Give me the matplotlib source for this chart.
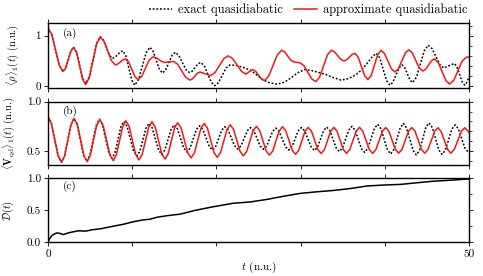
import matplotlib
matplotlib.use("Agg")
import matplotlib.pyplot as plt
from matplotlib.ticker import FixedLocator

plt.rcParams['font.family'] = 'serif'
plt.rcParams['font.serif'] = ['cmr10', 'DejaVu Serif']
plt.rcParams['mathtext.fontset'] = 'cm'
plt.rcParams['axes.unicode_minus'] = False
plt.rcParams['axes.formatter.use_mathtext'] = True

# ---------------- panel (a): <rho>_1(t) ----------------
ta_exact = [0, 0.445, 0.89, 1.335, 1.78, 2.10, 2.415, 2.73, 3.05, 3.405, 3.76, 4.115, 4.47,
            4.90, 5.335, 5.77, 6.2, 6.56, 6.925, 7.29, 7.65, 7.96, 8.275, 8.59, 8.9,
            9.25, 9.6, 9.95, 10.3, 10.75, 11.2, 11.65, 12.1, 12.475, 12.85, 13.225, 13.6,
            13.975, 14.35, 14.725, 15.1, 15.525, 15.95, 16.375, 16.8, 17.14, 17.475, 17.81,
            18.15, 18.56, 18.975, 19.39, 19.8, 20.25, 20.7, 21.15, 21.6, 22.4, 23.2, 24.0,
            24.8, 25.5, 26.3, 27.2, 28.1, 28.9, 29.6, 30.5, 31.3, 32.2, 33.0, 33.9, 34.8,
            35.7, 36.6, 37.3, 37.9, 38.5, 39.0, 39.4, 39.8, 40.2, 40.6, 40.96, 41.325,
            41.69, 42.05, 42.36, 42.675, 42.99, 43.3, 43.76, 44.225, 44.69, 45.15, 45.61,
            46.075, 46.54, 47.0, 47.625, 48.25, 48.56, 48.875, 49.19, 49.5, 49.75, 50.0]
va_exact = [1.15, 1.024, 0.72, 0.416, 0.29, 0.36, 0.53, 0.70, 0.77, 0.665, 0.41, 0.155, 0.05,
            0.186, 0.515, 0.844, 0.98, 0.917, 0.765, 0.613, 0.55, 0.572, 0.625, 0.678, 0.70,
            0.60, 0.36, 0.119, 0.02, 0.13, 0.395, 0.66, 0.77, 0.696, 0.515, 0.334, 0.26,
            0.32, 0.465, 0.61, 0.67, 0.612, 0.47, 0.328, 0.27, 0.299, 0.37, 0.441,
            0.47, 0.403, 0.24, 0.077, 0.01, 0.07, 0.215, 0.36, 0.42, 0.41, 0.37, 0.32,
            0.22, 0.13, 0.07, 0.04, 0.08, 0.17, 0.26, 0.33, 0.31, 0.27, 0.23, 0.17, 0.12,
            0.15, 0.23, 0.33, 0.45, 0.58, 0.65, 0.558, 0.335, 0.112, 0.02, 0.078, 0.22,
            0.362, 0.42, 0.369, 0.245, 0.121, 0.07, 0.178, 0.44, 0.702, 0.81, 0.744,
            0.585, 0.426, 0.36, 0.405, 0.45, 0.387, 0.235, 0.083, 0.02, 0.08, 0.19]

ta_approx = [0, 0.445, 0.89, 1.335, 1.78, 2.10, 2.415, 2.73, 3.05, 3.405, 3.76, 4.115, 4.47,
             4.90, 5.335, 5.77, 6.2, 6.65, 7.1, 7.55, 8.0, 8.3, 8.6, 8.9, 9.2, 9.575, 9.95,
             10.325, 10.7, 11.14, 11.575, 12.01, 12.45, 12.81, 13.175, 13.54, 13.9, 14.4,
             14.9, 15.39, 15.875, 16.36, 16.85, 17.15, 17.45, 17.75, 18.05, 18.675, 19.3,
             19.825, 20.35, 20.875, 21.4, 21.925, 22.45, 22.975, 23.5, 23.9, 24.3, 24.65,
             25.0, 25.35, 25.7, 26.21, 26.725, 27.24, 27.75, 28.11, 28.475, 28.84, 29.2,
             29.55, 29.9, 30.375, 30.85, 31.325, 31.8, 32.26, 32.725, 33.19, 33.65, 34.025,
             34.4, 34.775, 35.15, 35.475, 35.8, 36.125, 36.45, 36.84, 37.225, 37.61, 38.0,
             38.39, 38.775, 39.16, 39.55, 39.96, 40.375, 40.79, 41.2, 41.61, 42.025, 42.44,
             42.85, 43.26, 43.675, 44.09, 44.5, 44.85, 45.2, 45.55, 45.9, 46.35, 46.8,
             47.25, 47.7, 48.2, 48.7, 49.2, 49.7, 50.0]
va_approx = [1.15, 1.024, 0.72, 0.416, 0.29, 0.36, 0.53, 0.70, 0.77, 0.662, 0.40, 0.138, 0.03,
             0.167, 0.50, 0.833, 0.97, 0.89, 0.695, 0.50, 0.42, 0.44, 0.48, 0.52, 0.54, 0.48,
             0.335, 0.19, 0.13, 0.196, 0.355, 0.514, 0.58, 0.564, 0.525, 0.486, 0.47, 0.48,
             0.49, 0.436, 0.305, 0.174, 0.12, 0.143, 0.20, 0.257, 0.28, 0.245, 0.21,
             0.267, 0.405, 0.543, 0.60, 0.547, 0.42, 0.293, 0.24, 0.285, 0.33, 0.298,
             0.22, 0.142, 0.11, 0.198, 0.41, 0.622, 0.71, 0.676, 0.595, 0.514, 0.48,
             0.47, 0.465, 0.41, 0.278, 0.145, 0.09, 0.18, 0.40, 0.62, 0.71, 0.679,
             0.605, 0.531, 0.50, 0.522, 0.575, 0.628, 0.65, 0.574, 0.39, 0.206, 0.13,
             0.215, 0.42, 0.625, 0.71, 0.647, 0.495, 0.343, 0.28, 0.344, 0.50, 0.656,
             0.72, 0.659, 0.51, 0.361, 0.30, 0.335, 0.42, 0.505, 0.54, 0.467, 0.29,
             0.113, 0.04, 0.119, 0.31, 0.501, 0.575, 0.575]

# ---------------- panel (b): <V_qd>_1(t) ----------------
tb_exact = [0, 0.4, 0.8, 1.2, 1.6, 1.97, 2.345, 2.72, 3.09, 3.47, 3.845, 4.22, 4.6,
            4.975, 5.35, 5.725, 6.1, 6.475, 6.85, 7.225, 7.6, 7.95, 8.3, 8.65, 9.0,
            9.39, 9.775, 10.16, 10.55, 10.91, 11.275, 11.64, 12.0, 12.375, 12.75, 13.125,
            13.5, 13.875, 14.25, 14.625, 15.0, 15.375, 15.75, 16.125, 16.5, 16.875, 17.25,
            17.625, 18.0, 18.39, 18.775, 19.16, 19.55, 19.91, 20.275, 20.64, 21.0, 21.39,
            21.775, 22.16, 22.55, 22.925, 23.3, 23.675, 24.05, 24.44, 24.825, 25.21, 25.6,
            25.96, 26.325, 26.69, 27.05, 27.44, 27.825, 28.21, 28.6, 28.975, 29.35, 29.725,
            30.1, 30.49, 30.875, 31.26, 31.65, 32.01, 32.375, 32.74, 33.1, 33.475, 33.85,
            34.225, 34.6, 34.975, 35.35, 35.725, 36.1, 36.475, 36.85, 37.225, 37.6, 37.99,
            38.375, 38.76, 39.15, 39.54, 39.925, 40.31, 40.7, 41.075, 41.45, 41.825, 42.2,
            42.59, 42.975, 43.36, 43.75, 44.125, 44.5, 44.875, 45.25, 45.64, 46.025, 46.41,
            46.8, 47.19, 47.575, 47.96, 48.35, 48.74, 49.125, 49.51, 49.9, 50.0]
vb_exact = [0.848, 0.780, 0.617, 0.453, 0.385, 0.450, 0.608, 0.766, 0.831, 0.767, 0.613, 0.459, 0.395,
            0.457, 0.608, 0.759, 0.821, 0.763, 0.623, 0.483, 0.425, 0.480, 0.613, 0.745, 0.80,
            0.749, 0.625, 0.500, 0.449, 0.497, 0.615, 0.732, 0.78, 0.734, 0.623, 0.511,
            0.465, 0.509, 0.615, 0.721, 0.765, 0.725, 0.628, 0.530, 0.49, 0.529, 0.623,
            0.717, 0.756, 0.720, 0.633, 0.546, 0.51, 0.544, 0.628, 0.712, 0.746, 0.713,
            0.633, 0.553, 0.52, 0.552, 0.629, 0.706, 0.738, 0.706, 0.628, 0.549, 0.517,
            0.548, 0.625, 0.701, 0.732, 0.700, 0.621, 0.542, 0.51, 0.543, 0.624, 0.705,
            0.738, 0.704, 0.622, 0.539, 0.505, 0.540, 0.624, 0.707, 0.742, 0.706, 0.619,
            0.531, 0.495, 0.532, 0.623, 0.713, 0.75, 0.711, 0.618, 0.524, 0.485, 0.527,
            0.628, 0.728, 0.77, 0.726, 0.620, 0.514, 0.47, 0.515, 0.625, 0.735, 0.78,
            0.733, 0.620, 0.507, 0.46, 0.507, 0.623, 0.738, 0.785, 0.738, 0.625, 0.512,
            0.465, 0.509, 0.615, 0.721, 0.765, 0.725, 0.628, 0.530, 0.49, 0.492]

tb_approx = [0, 0.4, 0.8, 1.2, 1.6, 1.975, 2.35, 2.725, 3.1, 3.49, 3.875, 4.26, 4.65,
             5.025, 5.4, 5.775, 6.15, 6.55, 6.95, 7.35, 7.75, 8.125, 8.5, 8.875, 9.25,
             9.64, 10.025, 10.41, 10.8, 11.19, 11.575, 11.96, 12.35, 12.74, 13.125, 13.51,
             13.9, 14.275, 14.65, 15.025, 15.4, 15.8, 16.2, 16.6, 17.0, 17.39, 17.775,
             18.16, 18.55, 18.94, 19.325, 19.71, 20.1, 20.49, 20.875, 21.26, 21.65, 22.04,
             22.425, 22.81, 23.2, 23.59, 23.975, 24.36, 24.75, 25.14, 25.525, 25.91, 26.3,
             26.69, 27.075, 27.46, 27.85, 28.24, 28.625, 29.01, 29.4, 29.775, 30.15, 30.525,
             30.9, 31.29, 31.675, 32.06, 32.45, 32.825, 33.2, 33.575, 33.95, 34.325, 34.7,
             35.075, 35.45, 35.84, 36.225, 36.61, 37.0, 37.39, 37.775, 38.16, 38.55, 38.94,
             39.325, 39.71, 40.1, 40.49, 40.875, 41.26, 41.65, 42.04, 42.425, 42.81, 43.2,
             43.59, 43.975, 44.36, 44.75, 45.14, 45.525, 45.91, 46.3, 46.69, 47.075, 47.46,
             47.85, 48.26, 48.675, 49.09, 49.5, 50.0]
vb_approx = [0.848, 0.780, 0.617, 0.453, 0.385, 0.450, 0.608, 0.766, 0.831, 0.767, 0.612, 0.456, 0.392,
             0.455, 0.607, 0.758, 0.821, 0.760, 0.612, 0.463, 0.402, 0.461, 0.605, 0.748, 0.807,
             0.749, 0.608, 0.467, 0.409, 0.466, 0.603, 0.740, 0.797, 0.742, 0.608, 0.473,
             0.418, 0.472, 0.603, 0.733, 0.787, 0.735, 0.609, 0.482, 0.43, 0.481, 0.605,
             0.729, 0.78, 0.730, 0.608, 0.486, 0.436, 0.484, 0.601, 0.717, 0.765, 0.719,
             0.608, 0.496, 0.45, 0.494, 0.600, 0.706, 0.75, 0.707, 0.604, 0.501, 0.458,
             0.500, 0.602, 0.704, 0.746, 0.705, 0.606, 0.507, 0.466, 0.506, 0.603, 0.700,
             0.74, 0.701, 0.607, 0.513, 0.474, 0.513, 0.607, 0.701, 0.74, 0.701, 0.608,
             0.515, 0.476, 0.515, 0.608, 0.701, 0.74, 0.701, 0.608, 0.515, 0.476, 0.514,
             0.607, 0.700, 0.738, 0.700, 0.608, 0.516, 0.478, 0.516, 0.608, 0.700, 0.738,
             0.700, 0.608, 0.516, 0.478, 0.516, 0.607, 0.698, 0.736, 0.698, 0.607, 0.516,
             0.478, 0.516, 0.607, 0.698, 0.736, 0.69]

# ---------------- panel (c): D(t) ----------------
tc = [0, 0.2, 0.5, 1.0, 1.4, 1.8, 2.5, 3.6, 4.5, 5.2, 6.2, 7.3, 8.9, 10.1, 11.3, 12.1,
      12.9, 14.1, 15.7, 16.3, 17.5, 19.6, 22.0, 24.0, 26.0, 28.0, 30.0, 32.0, 33.9, 35.9,
      37.9, 39.9, 41.9, 43.8, 45.8, 47.8, 50.0]
vc = [0, 0.06, 0.11, 0.145, 0.14, 0.12, 0.15, 0.18, 0.175, 0.195, 0.21, 0.24, 0.28, 0.32,
      0.35, 0.36, 0.39, 0.415, 0.44, 0.46, 0.50, 0.555, 0.61, 0.63, 0.67, 0.72, 0.765,
      0.79, 0.81, 0.84, 0.88, 0.895, 0.905, 0.93, 0.955, 0.97, 0.99]

xticks = [0, 10, 20, 30, 40, 50]
xticklabels = ['0', '', '', '', '', '50']
labels = ['(a)', '(b)', '(c)']

RED = '#f01818'
fig = plt.figure(figsize=(4.83, 2.76), dpi=100)
L, R = 48 / 483, 469 / 483
W = R - L
boxes = [(23, 87.7), (101.7, 165), (178.3, 242.3)]
axes = []
for top, bot in boxes:
    ax = fig.add_axes([L, 1 - bot / 276, W, (bot - top) / 276])
    axes.append(ax)

fs = 8
lfs = 7.5
for ax in axes:
    ax.set_xlim(0, 50)
    ax.xaxis.set_major_locator(FixedLocator(xticks))
    ax.tick_params(which='major', direction='out', length=3, width=0.6,
                   top=True, right=True, labelsize=fs, pad=2)
    ax.tick_params(which='minor', direction='out', length=1.8, width=0.5,
                   left=False, right=True, top=False, bottom=False)
    for s in ax.spines.values():
        s.set_linewidth(1.0)

# (a)
ax = axes[0]
ax.plot(ta_exact, va_exact, color='black', ls=(0, (1.2, 1.2)), lw=1.1,
        label='exact quasidiabatic')
ax.plot(ta_approx, va_approx, color=RED, lw=1.1, label='approximate quasidiabatic')
ax.set_ylim(-0.03, 1.25)
ax.set_yticks([0, 1])
ax.set_yticklabels(['0', '1'])
ax.yaxis.set_minor_locator(FixedLocator([0.2, 0.4, 0.6, 0.8, 1.2]))
ax.set_xticklabels([])
ax.set_ylabel(r'$\langle\rho\rangle_1(t)$ (n.u.)', fontsize=lfs)
ax.yaxis.set_label_coords(-0.064, 0.5)

# (b)
ax = axes[1]
ax.plot(tb_exact, vb_exact, color='black', ls=(0, (1.2, 1.2)), lw=1.1)
ax.plot(tb_approx, vb_approx, color=RED, lw=1.1)
ax.set_ylim(0.358, 1.0)
ax.set_yticks([0.5, 1.0])
ax.set_yticklabels(['0.5', '1.0'])
ax.yaxis.set_minor_locator(FixedLocator([0.4, 0.6, 0.7, 0.8, 0.9]))
ax.set_xticklabels([])
ax.set_ylabel(r'$\langle\mathbf{V}_{\rm qd}\rangle_1(t)$ (n.u.)', fontsize=lfs)
ax.yaxis.set_label_coords(-0.073, 0.5)

# (c)
ax = axes[2]
ax.plot(tc, vc, color='black', lw=1.1)
ax.set_ylim(0, 1.0)
ax.set_yticks([0, 0.5, 1.0])
ax.set_yticklabels(['0.0', '0.5', '1.0'])
ax.yaxis.set_minor_locator(FixedLocator([0.25, 0.75]))
ax.set_xticklabels(xticklabels)
ax.set_ylabel(r'$\mathcal{D}(t)$', fontsize=lfs)
ax.yaxis.set_label_coords(-0.077, 0.5)
ax.set_xlabel(r'$t$ (n.u.)', fontsize=fs, labelpad=1)

for ax, lab, yy in zip(axes, labels, [0.84, 0.84, 0.87]):
    ax.text(0.036, yy, lab, transform=ax.transAxes, fontsize=fs, va='center', ha='left')

h, l = axes[0].get_legend_handles_labels()
fig.legend(h, l, loc='center right', bbox_to_anchor=(0.978, 1 - 10 / 276), ncol=2,
           frameon=False, fontsize=9, handlelength=1.8, columnspacing=0.9,
           handletextpad=0.5, borderaxespad=0)

fig.savefig('out.png', dpi=100)
